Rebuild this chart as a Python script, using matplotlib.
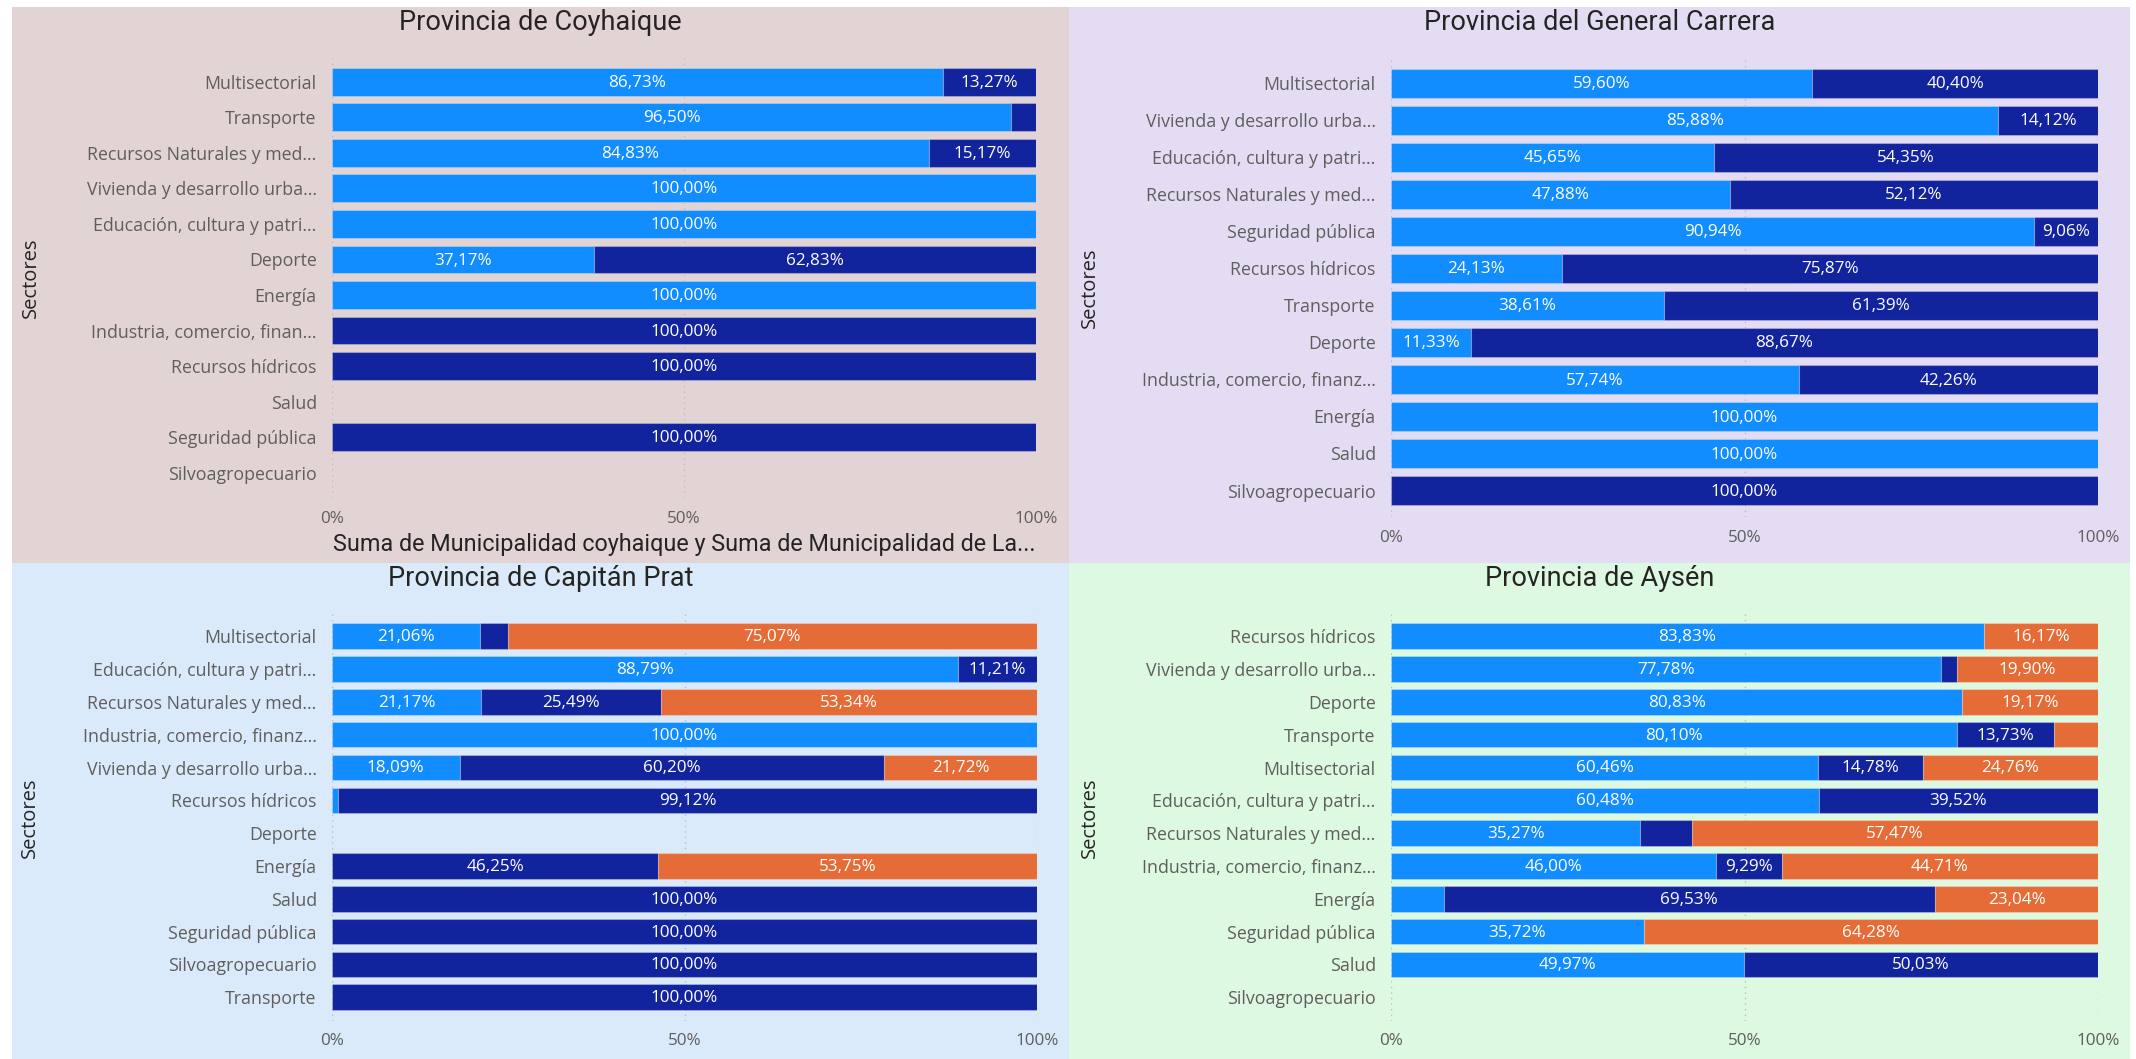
import matplotlib
matplotlib.use('Agg')
import matplotlib.pyplot as plt
from matplotlib.patches import Rectangle

W, H = 2136, 1059
LIGHT = '#118DFF'
DARK = '#12239E'
ORANGE = '#E66C37'

# ---------------- data ----------------
coy_title = 'Provincia de Coyhaique'
coy_cats = ['Multisectorial', 'Transporte', 'Recursos Naturales y med...',
            'Vivienda y desarrollo urba...', 'Educación, cultura y patri...',
            'Deporte', 'Energía', 'Industria, comercio, finan...',
            'Recursos hídricos', 'Salud', 'Seguridad pública', 'Silvoagropecuario']
coy_s1 = [86.73, 96.50, 84.83, 100.00, 100.00, 37.17, 100.00, 0, 0, 0, 0, 0]
coy_s2 = [13.27, 3.50, 15.17, 0, 0, 62.83, 0, 100.00, 100.00, 0, 100.00, 0]
coy_s3 = [0] * 12

gc_title = 'Provincia del General Carrera'
gc_cats = ['Multisectorial', 'Vivienda y desarrollo urba...', 'Educación, cultura y patri...',
           'Recursos Naturales y med...', 'Seguridad pública', 'Recursos hídricos',
           'Transporte', 'Deporte', 'Industria, comercio, finanz...', 'Energía',
           'Salud', 'Silvoagropecuario']
gc_s1 = [59.60, 85.88, 45.65, 47.88, 90.94, 24.13, 38.61, 11.33, 57.74, 100.00, 100.00, 0]
gc_s2 = [40.40, 14.12, 54.35, 52.12, 9.06, 75.87, 61.39, 88.67, 42.26, 0, 0, 100.00]
gc_s3 = [0] * 12

cp_title = 'Provincia de Capitán Prat'
cp_cats = ['Multisectorial', 'Educación, cultura y patri...', 'Recursos Naturales y med...',
           'Industria, comercio, finanz...', 'Vivienda y desarrollo urba...',
           'Recursos hídricos', 'Deporte', 'Energía', 'Salud', 'Seguridad pública',
           'Silvoagropecuario', 'Transporte']
cp_s1 = [21.06, 88.79, 21.17, 100.00, 18.09, 0.88, 0, 0, 0, 0, 0, 0]
cp_s2 = [3.87, 11.21, 25.49, 0, 60.20, 99.12, 0, 46.25, 100.00, 100.00, 100.00, 100.00]
cp_s3 = [75.07, 0, 53.34, 0, 21.72, 0, 0, 53.75, 0, 0, 0, 0]

ay_title = 'Provincia de Aysén'
ay_cats = ['Recursos hídricos', 'Vivienda y desarrollo urba...', 'Deporte', 'Transporte',
           'Multisectorial', 'Educación, cultura y patri...', 'Recursos Naturales y med...',
           'Industria, comercio, finanz...', 'Energía', 'Seguridad pública', 'Salud',
           'Silvoagropecuario']
ay_s1 = [83.83, 77.78, 80.83, 80.10, 60.46, 60.48, 35.27, 46.00, 7.43, 35.72, 49.97, 0]
ay_s2 = [0, 2.32, 0, 13.73, 14.78, 39.52, 7.26, 9.29, 69.53, 0, 50.03, 0]
ay_s3 = [16.17, 19.90, 19.17, 6.17, 24.76, 0, 57.47, 44.71, 23.04, 64.28, 0, 0]

xticks = [0, 50, 100]
xtick_labels = ['0%', '50%', '100%']
coy_xtitle = 'Suma de Municipalidad coyhaique y Suma de Municipalidad de La...'
ylabel = 'Sectores'

# ---------------- layout ----------------
LABEL_FONT = ['Open Sans', 'DejaVu Sans']
TITLE_FONT = ['Roboto', 'DejaVu Sans']

fig = plt.figure(figsize=(W / 100, H / 100), dpi=100)
fig.patch.set_facecolor('white')


def rect(x0, y0, x1, y1, color):
    fig.add_artist(Rectangle((x0 / W, 1 - y1 / H), (x1 - x0) / W, (y1 - y0) / H,
                             transform=fig.transFigure, facecolor=color,
                             edgecolor='none', zorder=0))


panels = [
    dict(box=(12, 7, 1069, 563), bg='#E2D4D4', bx=(332, 1036), rows=(81.7, 472.8),
         ty=22, sx=31, title=coy_title, cats=coy_cats, s=(coy_s1, coy_s2, coy_s3),
         xtitle=coy_xtitle),
    dict(box=(1069, 7, 2130, 563), bg='#E4DCF2', bx=(1391, 2098), rows=(83.1, 490.5),
         ty=22, sx=1090, title=gc_title, cats=gc_cats, s=(gc_s1, gc_s2, gc_s3),
         xtitle=None),
    dict(box=(12, 563, 1069, 1059), bg='#DAEAFB', bx=(332, 1037), rows=(636.2, 997.3),
         ty=578, sx=30, title=cp_title, cats=cp_cats, s=(cp_s1, cp_s2, cp_s3),
         xtitle=None),
    dict(box=(1069, 563, 2130, 1059), bg='#DDF9E1', bx=(1391, 2098), rows=(636.2, 997.3),
         ty=578, sx=1090, title=ay_title, cats=ay_cats, s=(ay_s1, ay_s2, ay_s3),
         xtitle=None),
]

for p in panels:
    x0, y0, x1, y1 = p['box']
    rect(x0, y0, x1, y1, p['bg'])

for p in panels:
    cats = p['cats']
    n = len(cats)
    c0, cl = p['rows']
    sp = (cl - c0) / (n - 1)
    top_pad, bot_pad = 0.68, 0.72
    ay0 = c0 - top_pad * sp
    ay1 = cl + bot_pad * sp
    bx0, bx1 = p['bx']
    ax = fig.add_axes([bx0 / W, 1 - ay1 / H, (bx1 - bx0) / W, (ay1 - ay0) / H])
    ax.set_facecolor('none')
    ax.set_xlim(0, 100)
    ax.set_ylim(n - 1 + bot_pad, -top_pad)
    ypos = list(range(n))
    left = [0.0] * n
    for vals, col in zip(p['s'], (LIGHT, DARK, ORANGE)):
        lws = [0.8 if v > 0 else 0 for v in vals]
        ax.barh(ypos, vals, left=left, height=0.78, color=col,
                edgecolor=(1, 1, 1, 0.25), linewidth=lws, zorder=3)
        for i, v in enumerate(vals):
            if v >= 8.5:
                ax.text(left[i] + v / 2, i + 0.03, f'{v:.2f}'.replace('.', ',') + '%',
                        ha='center', va='center', color='white', fontsize=12.3,
                        family=LABEL_FONT, zorder=4)
        left = [l + v for l, v in zip(left, vals)]
    ax.set_yticks(ypos)
    ax.set_yticklabels(cats, family=LABEL_FONT, fontsize=12.8, color='#605E5C')
    ax.set_xticks(xticks)
    ax.set_xticklabels(xtick_labels, family=LABEL_FONT, fontsize=12.3, color='#605E5C')
    ax.tick_params(axis='y', length=0, pad=11)
    ax.tick_params(axis='x', length=0, pad=9)
    for s in ax.spines.values():
        s.set_visible(False)
    ax.xaxis.grid(True, linestyle=(0, (1, 3)), color='#BDBBB9', linewidth=1, zorder=1)
    ax.set_axisbelow(True)

    fx0, fy0, fx1, fy1 = p['box']
    fig.text(((fx0 + fx1) / 2) / W, 1 - p['ty'] / H, p['title'], ha='center', va='center',
             fontsize=19.5, color='#252423', family=TITLE_FONT)
    fig.text(p['sx'] / W, 1 - ((ay0 + ay1) / 2) / H, ylabel, rotation=90,
             ha='center', va='center', fontsize=14.5, color='#252423', family=LABEL_FONT)
    if p['xtitle']:
        fig.text(((bx0 + bx1) / 2) / W, 1 - 545 / H, p['xtitle'], ha='center', va='center',
                 fontsize=16.8, color='#252423', family=TITLE_FONT)

fig.savefig('out.png', dpi=100, facecolor='white')
